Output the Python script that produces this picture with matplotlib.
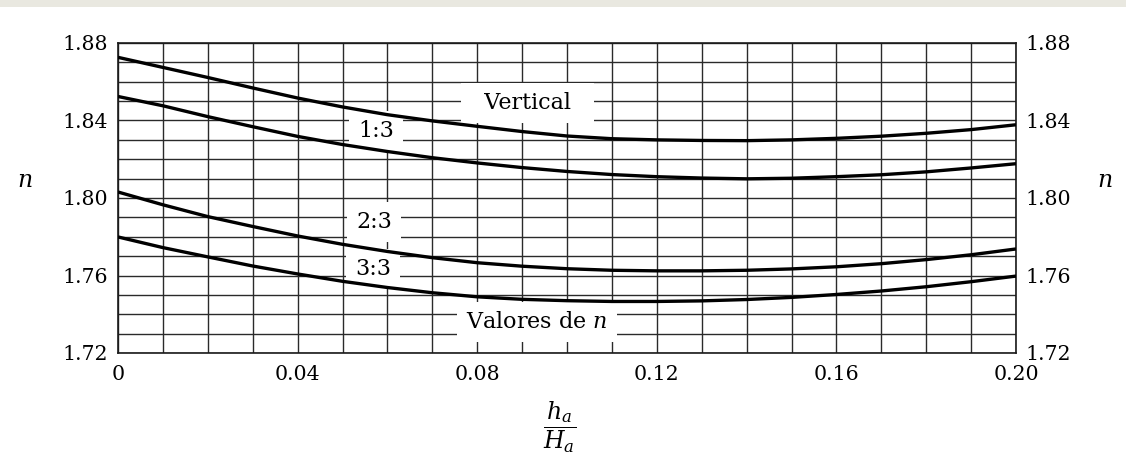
import numpy as np
import matplotlib
matplotlib.use("Agg")
import matplotlib.pyplot as plt
from matplotlib.patches import Rectangle

# h_a / H_a values (every 0.01)
ratio = [0.00, 0.01, 0.02, 0.03, 0.04, 0.05, 0.06, 0.07, 0.08, 0.09, 0.10,
         0.11, 0.12, 0.13, 0.14, 0.15, 0.16, 0.17, 0.18, 0.19, 0.20]

# n for each upstream face slope
n_vertical = [1.8726, 1.8674, 1.8622, 1.8568, 1.8516, 1.8470, 1.8430, 1.8398,
              1.8370, 1.8343, 1.8320, 1.8306, 1.8300, 1.8297, 1.8296, 1.8300,
              1.8308, 1.8319, 1.8334, 1.8353, 1.8378]
n_1_3 = [1.8524, 1.8476, 1.8420, 1.8368, 1.8318, 1.8276, 1.8240, 1.8208,
         1.8181, 1.8157, 1.8137, 1.8121, 1.8110, 1.8103, 1.8099, 1.8102,
         1.8110, 1.8120, 1.8135, 1.8155, 1.8177]
n_2_3 = [1.8031, 1.7965, 1.7904, 1.7853, 1.7804, 1.7761, 1.7724, 1.7692,
         1.7666, 1.7648, 1.7635, 1.7627, 1.7624, 1.7624, 1.7627, 1.7634,
         1.7645, 1.7661, 1.7682, 1.7707, 1.7737]
n_3_3 = [1.7799, 1.7744, 1.7696, 1.7649, 1.7608, 1.7570, 1.7538, 1.7511,
         1.7490, 1.7477, 1.7470, 1.7466, 1.7466, 1.7469, 1.7476, 1.7487,
         1.7502, 1.7520, 1.7542, 1.7568, 1.7597]

x_ticks = [0.0, 0.04, 0.08, 0.12, 0.16, 0.20]
x_tick_labels = ["0", "0.04", "0.08", "0.12", "0.16", "0.20"]
y_ticks = [1.72, 1.76, 1.80, 1.84, 1.88]
y_tick_labels = ["1.72", "1.76", "1.80", "1.84", "1.88"]

# curve labels: (text, x, y)
curve_labels = [
    ("  Vertical  ", 0.0912, 1.8492),
    ("1:3", 0.0575, 1.8347),
    ("2:3", 0.0570, 1.7878),
    ("3:3", 0.0568, 1.7635),
    ("Valores de $n$", 0.0933, 1.7361),
]

plt.rcParams["font.family"] = ["DejaVu Serif"]
plt.rcParams["mathtext.fontset"] = "dejavuserif"

fig = plt.figure(figsize=(11.26, 4.59), dpi=100)
fig.patch.set_facecolor("white")
ax = fig.add_axes([118 / 1126, 1 - 353 / 459, 898 / 1126, 310 / 459])

# faint scan band along the top edge
fig.patches.append(Rectangle((0, 1 - 7 / 459), 1, 7 / 459, transform=fig.transFigure,
                             facecolor="#e9e8e0", edgecolor="none", zorder=0))

ax.set_xlim(0, 0.20)
ax.set_ylim(1.72, 1.88)
ax.set_xticks(x_ticks)
ax.set_xticklabels(x_tick_labels)
ax.set_yticks(y_ticks)
ax.set_yticklabels(y_tick_labels)
ax.set_xticks(np.round(np.arange(0, 0.2001, 0.01), 2), minor=True)
ax.set_yticks(np.round(np.arange(1.72, 1.8801, 0.01), 2), minor=True)

ax.grid(which="both", color="#2a2a2a", linewidth=1.0, zorder=1)
ax.set_axisbelow(True)
ax.tick_params(which="both", length=0)
ax.tick_params(axis="y", labelleft=True, labelright=True, labelsize=14.8, pad=7)
ax.tick_params(axis="x", labelsize=14.8, pad=9)
for s in ax.spines.values():
    s.set_linewidth(1.2)
    s.set_color("#1a1a1a")

for series in (n_vertical, n_1_3, n_2_3, n_3_3):
    ax.plot(ratio, series, color="black", linewidth=2.4, solid_capstyle="butt",
            solid_joinstyle="round", zorder=4)

for text, tx, ty in curve_labels:
    ax.text(tx, ty, text, ha="center", va="center", fontsize=16, zorder=3,
            bbox=dict(boxstyle="square,pad=0.4", facecolor="white", edgecolor="none"))

ax.text(-0.1036, 0.558, "$n$", transform=ax.transAxes, ha="center", va="center", fontsize=17)
ax.text(1.099, 0.558, "$n$", transform=ax.transAxes, ha="center", va="center", fontsize=17)

fig.text(560 / 1126, 1 - 427 / 459, r"$\dfrac{h_a}{H_a}$", ha="center", va="center", fontsize=17)

fig.savefig("out.png", dpi=100, facecolor="white")
